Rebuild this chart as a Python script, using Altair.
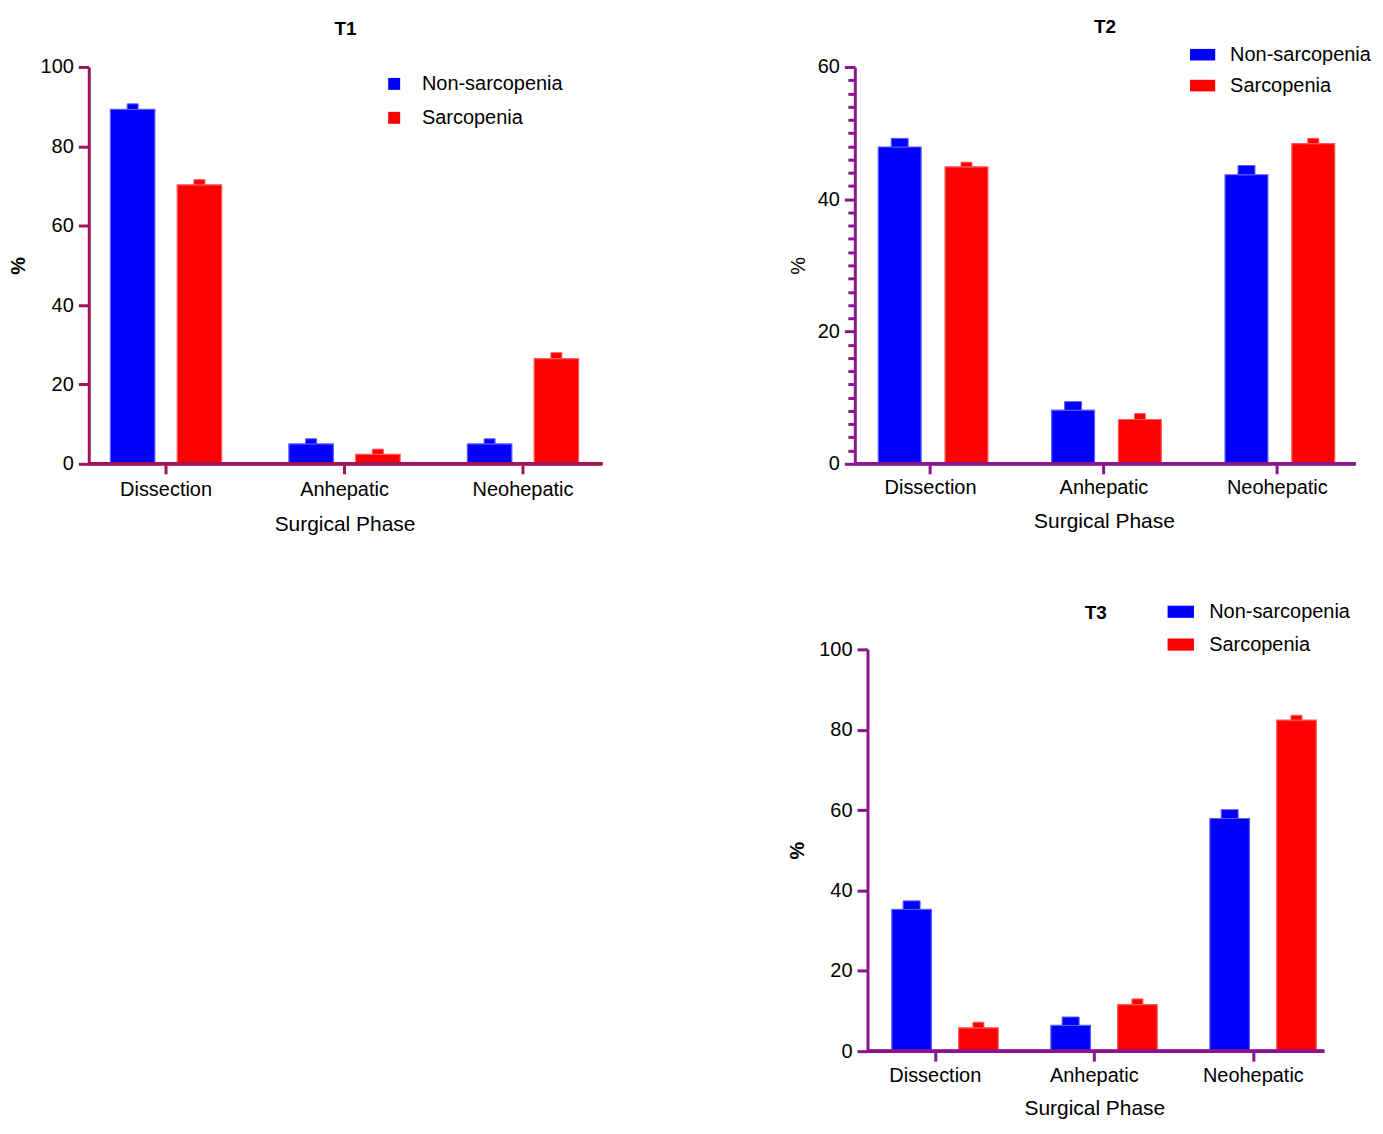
import altair as alt
import pandas as pd

PHASES = ["Dissection", "Anhepatic", "Neohepatic"]
GROUPS = ["Non-sarcopenia", "Sarcopenia"]

# T1
T1_NON = [89.3, 5.0, 5.0]
T1_NON_SEM = [1.4, 1.3, 1.3]
T1_SAR = [70.3, 2.4, 26.5]
T1_SAR_SEM = [1.3, 1.3, 1.5]
# T2
T2_NON = [47.9, 8.1, 43.7]
T2_NON_SEM = [1.3, 1.3, 1.4]
T2_SAR = [44.9, 6.7, 48.4]
T2_SAR_SEM = [0.7, 0.9, 0.8]
# T3
T3_NON = [35.3, 6.4, 57.9]
T3_NON_SEM = [2.1, 2.1, 2.2]
T3_SAR = [5.8, 11.6, 82.4]
T3_SAR_SEM = [1.4, 1.4, 1.2]

FONT = "Liberation Sans"
BLUE = "#0000FF"
RED = "#FF0000"
EDGE = ["#5C5CFF", "#FF5A5A"]
T1_AXIS = "#A0145A"
T23_AXIS = "#8A168C"


def frame(non, non_sem, sar, sar_sem):
    return pd.DataFrame({
        "phase": PHASES + PHASES,
        "group": [GROUPS[0]] * 3 + [GROUPS[1]] * 3,
        "value": non + sar,
        "sem": non_sem + sar_sem,
    })


def panel(df, title, ymax, width, height, x_range, off_pad, bar_w, cap_w,
          axis_color, pct_weight, pct_x, label_pad, xtitle_y, leg, title_off,
          title_dy=0, minor=False):
    x = alt.X(
        "phase:N", sort=PHASES,
        scale=alt.Scale(domain=PHASES, range=x_range, paddingInner=0, paddingOuter=0),
        axis=alt.Axis(
            title="Surgical Phase", domain=False, tickSize=10, tickWidth=3,
            tickColor=axis_color, labelAngle=0, labelFont=FONT, labelFontSize=20,
            labelColor="black", labelPadding=label_pad, titleFont=FONT,
            titleFontSize=21, titleFontWeight="normal", titleColor="black",
            titleY=xtitle_y, titleBaseline="top", grid=False,
        ),
    )
    xo = alt.XOffset(
        "group:N", sort=GROUPS,
        scale=alt.Scale(domain=GROUPS, paddingInner=0, paddingOuter=off_pad),
    )
    common = dict(
        tickWidth=3, tickColor=axis_color, domainColor=axis_color, domainWidth=3,
        labelFont=FONT, labelFontSize=20, labelColor="black", labelPadding=5,
        titleFont=FONT, titleFontSize=20, titleFontWeight=pct_weight,
        titleColor="black", titleX=pct_x, grid=False, title="%",
    )
    if minor:
        yvals = list(range(0, ymax + 1, 2))
        yaxis = alt.Axis(
            values=yvals, tickCount=len(yvals) + 5,
            labelExpr="datum.value % 20 === 0 ? datum.label : ''",
            labelOverlap=False,
            tickSize={"condition": {"test": "datum.value % 20 === 0", "value": 10.5}, "value": 7},
            **common,
        )
    else:
        yaxis = alt.Axis(values=list(range(0, ymax + 1, 20)), tickSize=10.5, **common)
    yscale = alt.Scale(domain=[0, ymax], nice=False, zero=True)
    color = alt.Color(
        "group:N", sort=GROUPS,
        scale=alt.Scale(domain=GROUPS, range=[BLUE, RED]),
        legend=alt.Legend(
            title=None, orient="none", legendX=leg["x"], legendY=leg["y"],
            symbolType=leg["shape"], symbolSize=leg["size"], symbolOpacity=1,
            symbolStrokeWidth=0, labelFont=FONT, labelFontSize=20,
            labelColor="black", labelOffset=leg["off"], rowPadding=leg["row"],
            padding=0,
        ),
    )
    stroke = alt.Stroke("group:N", scale=alt.Scale(domain=GROUPS, range=EDGE), legend=None)
    y = alt.Y("value:Q", scale=yscale, axis=yaxis)
    base = alt.Chart(df)
    bars = base.mark_bar(width=bar_w, strokeWidth=1.2).encode(
        x=x, xOffset=xo, y=y, color=color, stroke=stroke,
    )
    layers = [bars]
    for g, w in zip(GROUPS, cap_w):
        layers.append(
            base.transform_filter(alt.datum.group == g)
            .transform_calculate(upper="datum.value + datum.sem")
            .mark_bar(width=w, strokeWidth=1.0)
            .encode(x=x, xOffset=xo, y=y, y2="upper:Q", color=color, stroke=stroke)
        )
    layers.append(base.mark_rule(color=axis_color, strokeWidth=3).encode(y=alt.datum(0)))
    return alt.layer(*layers).properties(
        width=width, height=height,
        title=alt.TitleParams(
            text=title, font=FONT, fontSize=19, fontWeight="bold", color="black",
            anchor="middle", frame="group", offset=title_off, dy=title_dy,
        ),
    )


RECT = "M-1,-0.46L1,-0.46L1,0.46L-1,0.46Z"

t1 = panel(
    frame(T1_NON, T1_NON_SEM, T1_SAR, T1_SAR_SEM), "T1", 100, 515, 398,
    [-12, 525], 0.336, 44.6, [11, 11], T1_AXIS, "bold", -60, 6, 50,
    {"x": 296.3, "y": 7, "shape": "square", "size": 144, "off": 17.8, "row": 14},
    title_off=18,
)
t2 = panel(
    frame(T2_NON, T2_NON_SEM, T2_SAR, T2_SAR_SEM), "T2", 60, 502, 398,
    [-11, 510.7], 0.336, 43, [17, 11], T23_AXIS, "normal", -46.3, 4.2, 46.6,
    {"x": 335.8, "y": -25.3, "shape": RECT, "size": 640, "off": 14.6, "row": 8},
    title_off=4.7, minor=True,
)
t3 = panel(
    frame(T3_NON, T3_NON_SEM, T3_SAR, T3_SAR_SEM), "T3", 100, 458, 403,
    [-11.75, 466.75], 0.325, 39.7, [17, 11], T23_AXIS, "bold", -60.5, 4.8, 47,
    {"x": 300.7, "y": -51.2, "shape": RECT, "size": 700, "off": 15, "row": 8.9},
    title_off=0, title_dy=24.3,
)

spacer = alt.Chart(pd.DataFrame({"v": [0]})).mark_rule(opacity=0).encode(
    y=alt.value(0)
).properties(width=679.8, height=10)

RES = dict(color="independent", stroke="independent", x="independent", y="independent")

top = alt.hconcat(t1, t2, spacing=164.3).resolve_scale(**RES).resolve_legend(color="independent")
bottom = alt.hconcat(spacer, t3, spacing=20).resolve_scale(**RES).resolve_legend(color="independent")

chart = alt.vconcat(top, bottom, spacing=63.1).resolve_scale(**RES).resolve_legend(
    color="independent"
).properties(
    padding={"left": 1, "top": 8.5, "right": 0, "bottom": 0},
).configure_view(stroke=None)

chart.save("out.html", embed_options={"renderer": "svg", "actions": False})
